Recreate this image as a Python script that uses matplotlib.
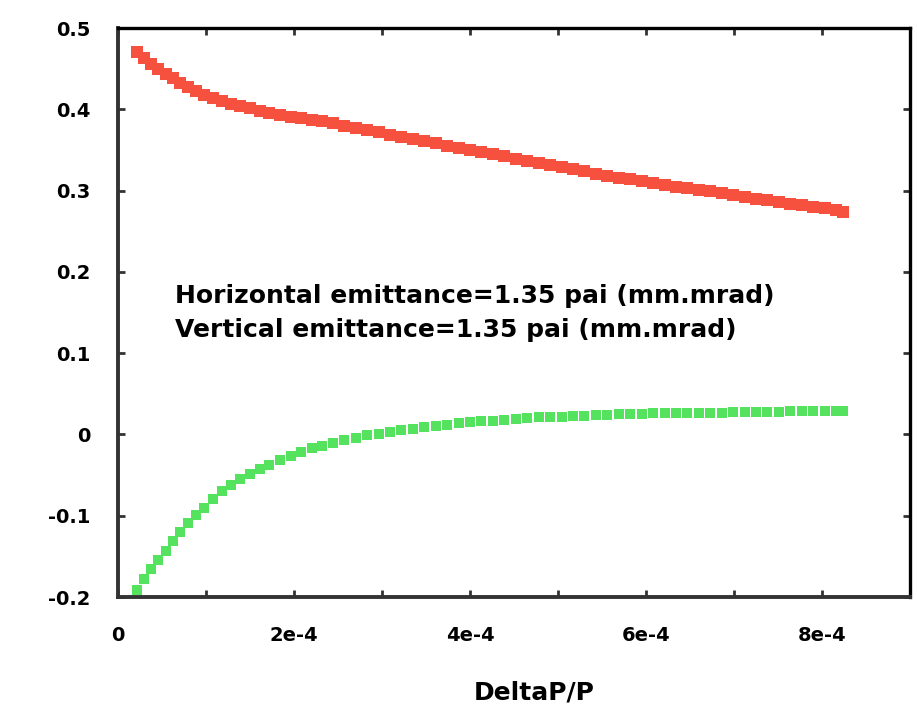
import matplotlib
matplotlib.use('Agg')
import matplotlib.pyplot as plt
from matplotlib.ticker import MultipleLocator, FuncFormatter

# momentum deviation (units of 1e-4)
delta_p = [0.22, 0.30, 0.38, 0.46, 0.54, 0.62, 0.71, 0.80, 0.89, 0.98,
           1.08, 1.18, 1.28, 1.39, 1.50, 1.61, 1.72, 1.84, 1.96, 2.08,
           2.20, 2.32, 2.44, 2.57, 2.70, 2.83, 2.96, 3.09, 3.22, 3.35,
           3.48, 3.61, 3.74, 3.87, 4.00, 4.13, 4.26, 4.39, 4.52, 4.65,
           4.78, 4.91, 5.04, 5.17, 5.30, 5.43, 5.56, 5.69, 5.82, 5.95,
           6.08, 6.21, 6.34, 6.47, 6.60, 6.73, 6.86, 6.99, 7.12, 7.25,
           7.38, 7.51, 7.64, 7.77, 7.90, 8.03, 8.16, 8.24]

horizontal = [0.470, 0.463, 0.456, 0.450, 0.444, 0.438, 0.432, 0.427, 0.422, 0.418,
              0.414, 0.410, 0.407, 0.404, 0.401, 0.398, 0.396, 0.393, 0.391, 0.389,
              0.387, 0.385, 0.383, 0.380, 0.377, 0.375, 0.372, 0.369, 0.366, 0.364,
              0.361, 0.358, 0.355, 0.353, 0.350, 0.347, 0.345, 0.342, 0.339, 0.337,
              0.334, 0.332, 0.329, 0.326, 0.324, 0.321, 0.318, 0.316, 0.314, 0.312,
              0.309, 0.307, 0.305, 0.303, 0.301, 0.299, 0.297, 0.295, 0.292, 0.290,
              0.288, 0.286, 0.284, 0.282, 0.280, 0.278, 0.276, 0.274]

vertical = [-0.191, -0.178, -0.166, -0.154, -0.143, -0.131, -0.120, -0.109, -0.099, -0.090,
            -0.080, -0.070, -0.062, -0.055, -0.049, -0.043, -0.037, -0.031, -0.026, -0.021,
            -0.017, -0.014, -0.010, -0.007, -0.004, -0.001, 0.001, 0.003, 0.005, 0.007,
            0.009, 0.011, 0.012, 0.014, 0.015, 0.016, 0.017, 0.018, 0.019, 0.020,
            0.021, 0.021, 0.022, 0.023, 0.023, 0.024, 0.024, 0.025, 0.025, 0.025,
            0.026, 0.026, 0.026, 0.027, 0.027, 0.027, 0.027, 0.028, 0.028, 0.028,
            0.028, 0.028, 0.029, 0.029, 0.029, 0.029, 0.029, 0.029]

x_labels = {0: '0', 2: '2e-4', 4: '4e-4', 6: '6e-4', 8: '8e-4'}
note = ['Horizontal emittance=1.35 pai (mm.mrad)',
        'Vertical emittance=1.35 pai (mm.mrad)']

x = [v * 1e-4 for v in delta_p]

fig = plt.figure(figsize=(9.17, 7.11), dpi=100)
ax = fig.add_axes([0.1287, 0.1603, 0.8637, 0.8003])

ax.plot(x, horizontal, linestyle='none', marker='s', markersize=8,
        markeredgewidth=0, color='#f6503f')
ax.plot(x, vertical, linestyle='none', marker='s', markersize=7.5,
        markeredgewidth=0, color='#55e35f')

ax.set_xlim(0, 9e-4)
ax.set_ylim(-0.2, 0.5)
ax.xaxis.set_major_locator(MultipleLocator(1e-4))
ax.yaxis.set_major_locator(MultipleLocator(0.1))
ax.xaxis.set_major_formatter(FuncFormatter(lambda v, p: x_labels.get(int(round(v * 1e4)), '')))
ax.yaxis.set_major_formatter(FuncFormatter(lambda v, p: '0' if abs(v) < 1e-9 else '%.1f' % v))

ax.tick_params(direction='in', length=5, width=2, color='#333333',
               top=True, right=True, labelsize=14, pad=20)
ax.tick_params(axis='x', pad=21)
for lab in ax.get_xticklabels() + ax.get_yticklabels():
    lab.set_fontweight('bold')

for side in ['left', 'bottom']:
    ax.spines[side].set_linewidth(2.8)
    ax.spines[side].set_color('#333333')
for side in ['top', 'right']:
    ax.spines[side].set_linewidth(2.4)
    ax.spines[side].set_color('black')

ax.text(0.645e-4, 0.162, note[0], fontsize=18, fontweight='bold', va='baseline')
ax.text(0.645e-4, 0.120, note[1], fontsize=18, fontweight='bold', va='baseline')

fig.text(534 / 917, 1 - 692 / 711, 'DeltaP/P', fontsize=18, fontweight='bold',
         ha='center', va='center')

fig.savefig('out.png', dpi=100)
